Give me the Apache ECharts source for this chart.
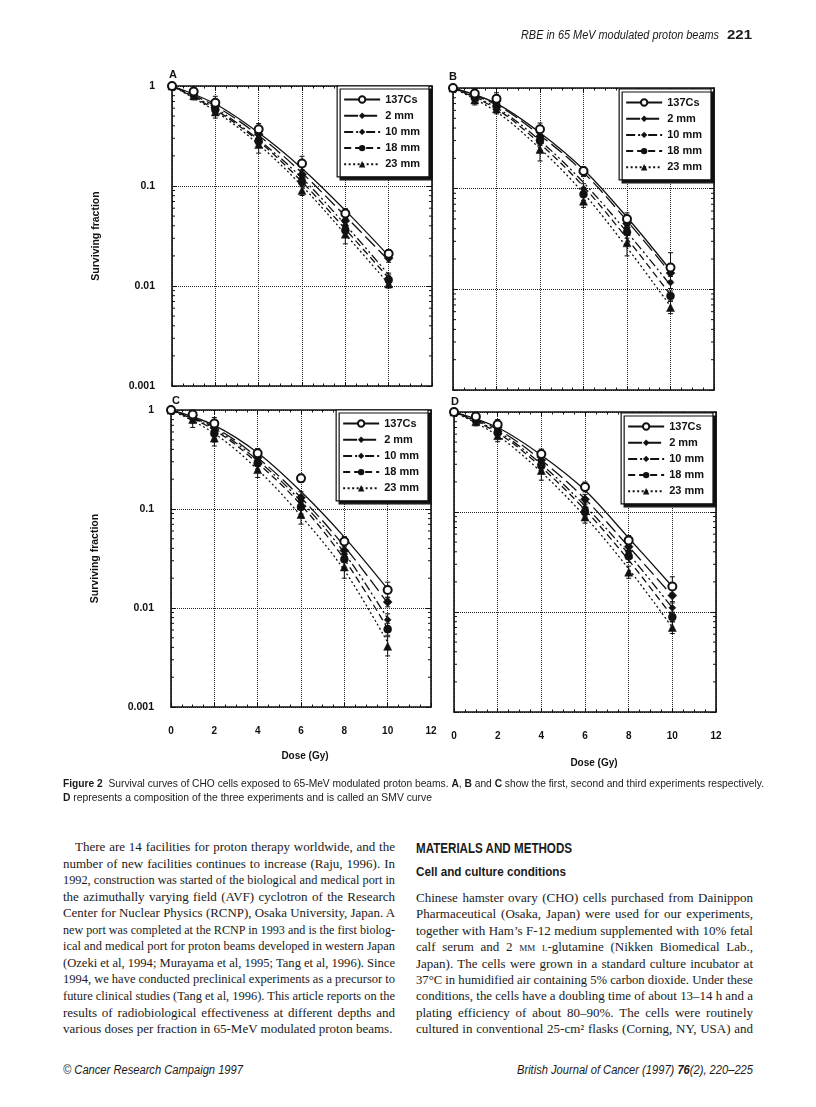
<!DOCTYPE html>
<html>
<head>
<meta charset="utf-8">
<title>Figure 2 – Survival curves of CHO cells</title>
<script src="https://cdn.jsdelivr.net/npm/echarts@6.0.0/dist/echarts.min.js"></script>
<style>
html,body{margin:0;padding:0;background:#fff;}
#page{position:relative;width:816px;height:1107px;overflow:hidden;background:#fff;}
#chart{position:absolute;left:0;top:0;width:816px;height:810px;}
.ln{position:absolute;white-space:nowrap;color:#1a1a1a;height:16px;line-height:16px;}
.ln > span{display:inline-block;transform-origin:0 50%;}
.serif{font-family:'Liberation Serif','Times New Roman',serif;font-size:13px;}
.sans{font-family:'Liberation Sans',Arial,Helvetica,sans-serif;}
.sc{font-variant:small-caps;}
</style>
</head>
<body>
<div id="page"><div id="chart"></div><div id="text"></div></div>
<script>
// ---------------- DATA ----------------
const GROUPS = ['137Cs', '2 mm', '10 mm', '18 mm', '23 mm'];
const DOSE_PTS = [0, 1, 2, 4, 6, 8, 10];
const DOSE_FIT = [0, 2, 4, 6, 8, 10];
const X_TICK_LABELS = ['0', '2', '4', '6', '8', '10', '12'];
const Y_TICK_LABELS = ['0.001', '0.01', '0.1', '1'];
const LOG_MINOR_MANTISSAS = [2, 3, 4, 5, 6, 7, 8, 9];
const LOG_DECADES = [0.001, 0.01, 0.1];

// Panel A (first experiment)
const A_PTS_CS = [1, 0.88, 0.68, 0.37, 0.168, 0.053, 0.021];
const A_PTS_2  = [1, 0.86, 0.64, 0.33, 0.13, 0.045, 0.019];
const A_PTS_10 = [1, 0.84, 0.60, 0.30, 0.12, 0.040, 0.012];
const A_PTS_18 = [1, 0.82, 0.58, 0.28, 0.11, 0.036, 0.0115];
const A_PTS_23 = [1, 0.80, 0.55, 0.26, 0.09, 0.033, 0.0105];
const A_FIT_CS = [1, 0.66, 0.34, 0.15, 0.057, 0.020];
const A_FIT_2  = [1, 0.63, 0.32, 0.135, 0.050, 0.018];
const A_FIT_10 = [1, 0.60, 0.29, 0.12, 0.041, 0.013];
const A_FIT_18 = [1, 0.58, 0.28, 0.11, 0.037, 0.012];
const A_FIT_23 = [1, 0.56, 0.26, 0.10, 0.033, 0.0105];
const A_ERR_CS = [1, 1.10, 1.16, 1.14, 1.18, 1.12, 1.10];
const A_ERR_2  = [1, 1.10, 1.12, 1.12, 1.12, 1.12, 1.10];
const A_ERR_10 = [1, 1.10, 1.15, 1.15, 1.12, 1.15, 1.12];
const A_ERR_18 = [1, 1.10, 1.12, 1.12, 1.12, 1.15, 1.12];
const A_ERR_23 = [1, 1.10, 1.15, 1.22, 1.12, 1.25, 1.10];

// Panel B (second experiment)
const B_PTS_CS = [1, 0.88, 0.78, 0.39, 0.15, 0.050, 0.0165];
const B_PTS_2  = [1, 0.85, 0.74, 0.33, 0.145, 0.045, 0.0145];
const B_PTS_10 = [1, 0.82, 0.70, 0.31, 0.10, 0.041, 0.0117];
const B_PTS_18 = [1, 0.80, 0.66, 0.30, 0.088, 0.037, 0.0086];
const B_PTS_23 = [1, 0.76, 0.62, 0.245, 0.075, 0.029, 0.0066];
const B_FIT_CS = [1, 0.70, 0.36, 0.155, 0.052, 0.0155];
const B_FIT_2  = [1, 0.68, 0.34, 0.145, 0.048, 0.0145];
const B_FIT_10 = [1, 0.64, 0.30, 0.115, 0.037, 0.011];
const B_FIT_18 = [1, 0.62, 0.28, 0.105, 0.032, 0.0088];
const B_FIT_23 = [1, 0.58, 0.25, 0.09, 0.026, 0.0068];
const B_ERR_CS = [1, 1.12, 1.15, 1.15, 1.10, 1.15, 1.40];
const B_ERR_2  = [1, 1.12, 1.15, 1.12, 1.10, 1.12, 1.20];
const B_ERR_10 = [1, 1.10, 1.12, 1.12, 1.12, 1.12, 1.15];
const B_ERR_18 = [1, 1.10, 1.12, 1.12, 1.15, 1.15, 1.12];
const B_ERR_23 = [1, 1.12, 1.12, 1.30, 1.15, 1.35, 1.15];

// Panel C (third experiment)
const C_PTS_CS = [1, 0.90, 0.73, 0.365, 0.204, 0.047, 0.0152];
const C_PTS_2  = [1, 0.88, 0.66, 0.33, 0.13, 0.038, 0.0115];
const C_PTS_10 = [1, 0.86, 0.62, 0.31, 0.12, 0.035, 0.0076];
const C_PTS_18 = [1, 0.85, 0.58, 0.29, 0.105, 0.031, 0.0061];
const C_PTS_23 = [1, 0.80, 0.52, 0.25, 0.088, 0.026, 0.0041];
const C_FIT_CS = [1, 0.70, 0.37, 0.15, 0.052, 0.0155];
const C_FIT_2  = [1, 0.67, 0.33, 0.13, 0.042, 0.0112];
const C_FIT_10 = [1, 0.65, 0.31, 0.12, 0.036, 0.0078];
const C_FIT_18 = [1, 0.63, 0.29, 0.11, 0.031, 0.0062];
const C_FIT_23 = [1, 0.58, 0.25, 0.085, 0.024, 0.0045];
const C_ERR_CS = [1, 1.10, 1.15, 1.12, 1.10, 1.12, 1.20];
const C_ERR_2  = [1, 1.12, 1.20, 1.15, 1.15, 1.15, 1.12];
const C_ERR_10 = [1, 1.12, 1.20, 1.15, 1.15, 1.15, 1.15];
const C_ERR_18 = [1, 1.15, 1.22, 1.15, 1.18, 1.20, 1.15];
const C_ERR_23 = [1, 1.20, 1.20, 1.20, 1.25, 1.30, 1.25];

// Panel D (composition, SMV curve)
const D_PTS_CS = [1, 0.90, 0.75, 0.38, 0.178, 0.052, 0.018];
const D_PTS_2  = [1, 0.87, 0.70, 0.33, 0.134, 0.045, 0.0146];
const D_PTS_10 = [1, 0.85, 0.66, 0.31, 0.11, 0.040, 0.011];
const D_PTS_18 = [1, 0.83, 0.62, 0.29, 0.10, 0.036, 0.0089];
const D_PTS_23 = [1, 0.80, 0.58, 0.26, 0.089, 0.025, 0.007];
const D_FIT_CS = [1, 0.70, 0.37, 0.165, 0.055, 0.018];
const D_FIT_2  = [1, 0.67, 0.33, 0.135, 0.045, 0.0145];
const D_FIT_10 = [1, 0.64, 0.30, 0.115, 0.038, 0.011];
const D_FIT_18 = [1, 0.62, 0.28, 0.105, 0.033, 0.009];
const D_FIT_23 = [1, 0.58, 0.25, 0.09, 0.027, 0.007];
const D_ERR_CS = [1, 1.10, 1.12, 1.12, 1.12, 1.12, 1.25];
const D_ERR_2  = [1, 1.10, 1.12, 1.12, 1.12, 1.12, 1.15];
const D_ERR_10 = [1, 1.10, 1.12, 1.12, 1.12, 1.15, 1.12];
const D_ERR_18 = [1, 1.10, 1.12, 1.12, 1.12, 1.15, 1.12];
const D_ERR_23 = [1, 1.10, 1.15, 1.25, 1.15, 1.15, 1.15];

const PANEL_LETTERS = ['A', 'B', 'C', 'D'];
const X_AXIS_NAME = 'Dose (Gy)';
const Y_AXIS_NAME = 'Surviving fraction';

// ---------------- TEXT ----------------
const HEADER_TITLE = 'RBE in 65 MeV modulated proton beams';
const HEADER_PAGE = '221';
const CAPTION_1 = '<b>Figure 2</b>&nbsp; Survival curves of CHO cells exposed to 65-MeV modulated proton beams. <b>A</b>, <b>B</b> and <b>C</b> show the first, second and third experiments respectively.';
const CAPTION_2 = '<b>D</b> represents a composition of the three experiments and is called an SMV curve';
const LEFT_COL = [
  'There are 14 facilities for proton therapy worldwide, and the',
  'number of new facilities continues to increase (Raju, 1996). In',
  '1992, construction was started of the biological and medical port in',
  'the azimuthally varying field (AVF) cyclotron of the Research',
  'Center for Nuclear Physics (RCNP), Osaka University, Japan. A',
  'new port was completed at the RCNP in 1993 and is the first biolog-',
  'ical and medical port for proton beams developed in western Japan',
  '(Ozeki et al, 1994; Murayama et al, 1995; Tang et al, 1996). Since',
  '1994, we have conducted preclinical experiments as a precursor to',
  'future clinical studies (Tang et al, 1996). This article reports on the',
  'results of radiobiological effectiveness at different depths and',
  'various doses per fraction in 65-MeV modulated proton beams.'
];
const RIGHT_HEAD_1 = 'MATERIALS AND METHODS';
const RIGHT_HEAD_2 = 'Cell and culture conditions';
const RIGHT_COL = [
  'Chinese hamster ovary (CHO) cells purchased from Dainippon',
  'Pharmaceutical (Osaka, Japan) were used for our experiments,',
  'together with Ham’s F-12 medium supplemented with 10% fetal',
  'calf serum and 2 <span class="sc">mm</span> <span class="sc">l</span>-glutamine (Nikken Biomedical Lab.,',
  'Japan). The cells were grown in a standard culture incubator at',
  '37°C in humidified air containing 5% carbon dioxide. Under these',
  'conditions, the cells have a doubling time of about 13–14 h and a',
  'plating efficiency of about 80–90%. The cells were routinely',
  'cultured in conventional 25-cm² flasks (Corning, NY, USA) and'
];
const FOOTER_LEFT = '© Cancer Research Campaign 1997';
const FOOTER_RIGHT = 'British Journal of Cancer (1997) <b>76</b>(2), 220–225';

// ---------------- LAYOUT ----------------
const PANELS = [
  {pts:[A_PTS_CS,A_PTS_2,A_PTS_10,A_PTS_18,A_PTS_23], fit:[A_FIT_CS,A_FIT_2,A_FIT_10,A_FIT_18,A_FIT_23], err:[A_ERR_CS,A_ERR_2,A_ERR_10,A_ERR_18,A_ERR_23]},
  {pts:[B_PTS_CS,B_PTS_2,B_PTS_10,B_PTS_18,B_PTS_23], fit:[B_FIT_CS,B_FIT_2,B_FIT_10,B_FIT_18,B_FIT_23], err:[B_ERR_CS,B_ERR_2,B_ERR_10,B_ERR_18,B_ERR_23]},
  {pts:[C_PTS_CS,C_PTS_2,C_PTS_10,C_PTS_18,C_PTS_23], fit:[C_FIT_CS,C_FIT_2,C_FIT_10,C_FIT_18,C_FIT_23], err:[C_ERR_CS,C_ERR_2,C_ERR_10,C_ERR_18,C_ERR_23]},
  {pts:[D_PTS_CS,D_PTS_2,D_PTS_10,D_PTS_18,D_PTS_23], fit:[D_FIT_CS,D_FIT_2,D_FIT_10,D_FIT_18,D_FIT_23], err:[D_ERR_CS,D_ERR_2,D_ERR_10,D_ERR_18,D_ERR_23]}
];
const LAYOUT = [
  {left:172, top:86,  width:260, height:300, lgRight:387, lgTop:86,  xLab:false, yLab:true,  lx:173, ly:75,  nameGap:44},
  {left:453, top:88,  width:261, height:302, lgRight:105, lgTop:89,  xLab:false, yLab:false, lx:453, ly:77,  nameGap:44},
  {left:171, top:410, width:260, height:297, lgRight:388, lgTop:410, xLab:true,  yLab:true,  lx:176, ly:401, nameGap:44, nameShift:8},
  {left:454, top:412, width:262, height:300, lgRight:103, lgTop:413, xLab:true,  yLab:false, lx:455, ly:402, nameGap:46, nameShift:18}
];
const STYLES = [
  {symbol:'emptyCircle', size:8, dash:'solid'},
  {symbol:'diamond',     size:9, dash:[14,5]},
  {symbol:'diamond',     size:7, dash:[9,3,2,3,2,3]},
  {symbol:'circle',      size:8, dash:[7,4]},
  {symbol:'triangle',    size:8, dash:[2,2.5]}
];
const INK = '#111';
const FONT = "'Liberation Sans', Arial, Helvetica, sans-serif";
const NARROW = "'Liberation Sans Narrow', 'Liberation Sans', Arial, sans-serif";

const logMinor = [];
LOG_DECADES.forEach(d => LOG_MINOR_MANTISSAS.forEach(m => logMinor.push([0, m * d])));

const grids = [], xAxes = [], yAxes = [], series = [], legends = [], graphics = [];

LAYOUT.forEach((L, p) => {
  grids.push({left:L.left, top:L.top, width:L.width, height:L.height, containLabel:false, show:false});
  const baseX = {
    type:'value', gridIndex:p, min:0, max:12, interval:2,
    axisLine:{show:true, onZero:false, lineStyle:{color:INK, width:1.6}},
    axisTick:{show:true, inside:true, length:4, lineStyle:{color:INK, width:1}},
    minorTick:{show:true, splitNumber:4, length:2.5, lineStyle:{color:INK, width:1}},
    minorSplitLine:{show:false}
  };
  xAxes.push(Object.assign({}, baseX, {
    position:'bottom',
    axisLabel:{show:L.xLab, margin:19, fontFamily:FONT, fontSize:10, fontWeight:'bold', color:INK,
      formatter: v => X_TICK_LABELS[Math.round(v / 2)]},
    splitLine:{show:true, lineStyle:{color:'#222', type:'dotted', width:1}},
    name: L.xLab ? X_AXIS_NAME : '', nameLocation:'middle', nameGap:L.nameGap,
    nameTextStyle:{fontFamily:FONT, fontSize:10, fontWeight:'bold', color:INK, padding:[0,0,0,L.nameShift || 0]}
  }));
  xAxes.push(Object.assign({}, baseX, {position:'top', axisLabel:{show:false}, splitLine:{show:false}}));
  const baseY = {
    type:'log', logBase:10, gridIndex:p, min:0.001, max:1,
    axisLine:{show:true, onZero:false, lineStyle:{color:INK, width:1.6}},
    axisTick:{show:true, inside:true, length:5, lineStyle:{color:INK, width:1}}
  };
  yAxes.push(Object.assign({}, baseY, {
    position:'left',
    axisLabel:{show:L.yLab, margin:17, fontFamily:NARROW, fontSize:10.5, fontWeight:'bold', color:INK,
      formatter: v => Y_TICK_LABELS[Math.round(Math.log10(v)) + 3]},
    splitLine:{show:true, lineStyle:{color:'#222', type:'dotted', width:1}},
    name: L.yLab ? Y_AXIS_NAME : '', nameLocation:'middle', nameGap:70, nameRotate:90,
    nameTextStyle:{fontFamily:NARROW, fontSize:10.5, fontWeight:'bold', color:INK}
  }));
  yAxes.push(Object.assign({}, baseY, {position:'right', axisLabel:{show:false}, splitLine:{show:false}}));

  const P = PANELS[p];
  // fitted survival curves (also provide the legend entries)
  GROUPS.forEach((g, k) => {
    const st = STYLES[k];
    series.push({
      type:'line', name:g, xAxisIndex:2*p, yAxisIndex:2*p,
      data: DOSE_FIT.map((d, i) => [d, P.fit[k][i]]),
      smooth:0.35, showSymbol:false,
      symbol:st.symbol, symbolSize:st.size,
      lineStyle:{color:INK, width:1.3, type:st.dash},
      itemStyle:{color:INK, borderColor:INK, borderWidth: st.symbol === 'emptyCircle' ? 1.3 : 0},
      silent:true, z:2, animation:false
    });
  });
  // measured points
  GROUPS.forEach((g, k) => {
    const st = STYLES[k];
    series.push({
      type:'scatter', name:'pts ' + g, xAxisIndex:2*p, yAxisIndex:2*p,
      data: DOSE_PTS.map((d, i) => [d, P.pts[k][i]]),
      symbol:st.symbol, symbolSize:st.size,
      itemStyle:{color:INK, borderColor:INK, borderWidth: st.symbol === 'emptyCircle' ? 1.3 : 0.5, opacity:1},
      silent:true, z: k === 0 ? 6 : 5, animation:false
    });
  });
  // error bars
  const errData = [];
  GROUPS.forEach((g, k) => {
    DOSE_PTS.forEach((d, i) => {
      const f = P.err[k][i];
      if (f > 1) errData.push([d, P.pts[k][i] / f, P.pts[k][i] * f]);
    });
  });
  series.push({
    type:'custom', name:'err', xAxisIndex:2*p, yAxisIndex:2*p, silent:true, z:4, animation:false,
    encode:{x:0, y:[1, 2]},
    data: errData,
    renderItem: (params, api) => {
      const x = api.value(0);
      const a = api.coord([x, api.value(1)]);
      const b = api.coord([x, api.value(2)]);
      const c = 2.5, s = {stroke:INK, lineWidth:1};
      return {type:'group', children:[
        {type:'line', shape:{x1:a[0], y1:a[1], x2:b[0], y2:b[1]}, style:s},
        {type:'line', shape:{x1:a[0]-c, y1:a[1], x2:a[0]+c, y2:a[1]}, style:s},
        {type:'line', shape:{x1:b[0]-c, y1:b[1], x2:b[0]+c, y2:b[1]}, style:s}
      ]};
    }
  });
  // logarithmic minor ticks on both vertical frame sides
  series.push({
    type:'custom', name:'minor', xAxisIndex:2*p, yAxisIndex:2*p, silent:true, z:3, animation:false,
    encode:{x:0, y:1},
    data: logMinor,
    renderItem: (params, api) => {
      const v = api.value(1);
      const l = api.coord([0, v]);
      const r = api.coord([12, v]);
      const s = {stroke:INK, lineWidth:1};
      return {type:'group', children:[
        {type:'line', shape:{x1:l[0], y1:l[1], x2:l[0]+3, y2:l[1]}, style:s},
        {type:'line', shape:{x1:r[0]-3, y1:r[1], x2:r[0], y2:r[1]}, style:s}
      ]};
    }
  });

  legends.push({
    data: GROUPS, orient:'vertical', right:L.lgRight, top:L.lgTop,
    itemWidth:36, itemHeight:8, itemGap:5.2, padding:[8, 9, 7, 6],
    backgroundColor:'#fff', borderColor:INK, borderWidth:1.2,
    shadowColor:INK, shadowBlur:0, shadowOffsetX:3, shadowOffsetY:3,
    textStyle:{fontFamily:FONT, fontSize:11, fontWeight:'bold', color:INK},
    selectedMode:false
  });
  graphics.push({
    type:'text', x:L.lx, y:L.ly, silent:true,
    style:{text:PANEL_LETTERS[p], font:"bold 11px 'Liberation Sans', Arial, sans-serif", fill:INK, textAlign:'center', textVerticalAlign:'middle'}
  });
});

const chart = echarts.init(document.getElementById('chart'), null, {renderer:'canvas'});
chart.setOption({
  animation:false,
  backgroundColor:'#fff',
  grid:grids, xAxis:xAxes, yAxis:yAxes, series:series, legend:legends, graphic:graphics
});

// ---------------- PAGE TEXT ----------------
const lines = [];
function addLine(html, x, yc, w, cls, mode) { lines.push({html, x, yc, w, cls, mode}); }
addLine('<i>' + HEADER_TITLE + '</i>', 521, 35, 198, 'sans', 'f');
addLine('<b>' + HEADER_PAGE + '</b>', 727, 35, 25, 'sans', 'f');
addLine(CAPTION_1, 63, 783, 701, 'sans cap', 'f');
addLine(CAPTION_2, 63, 797, 369, 'sans cap', 'f');
LEFT_COL.forEach((t, i) => {
  const x = i === 0 ? 75 : 63;
  addLine(t, x, 847 + i * 16.55, 395 - x, 'serif', i < LEFT_COL.length - 1 ? 'j' : 's');
});
addLine('<b>' + RIGHT_HEAD_1 + '</b>', 416, 848, 156, 'sans head1', 'f');
addLine('<b>' + RIGHT_HEAD_2 + '</b>', 416, 872, 150, 'sans head2', 'f');
RIGHT_COL.forEach((t, i) => addLine(t, 416, 898 + i * 16.4, 337, 'serif', 'j'));
addLine('<i>' + FOOTER_LEFT + '</i>', 63, 1070, 180, 'sans foot', 'f');
addLine('<i>' + FOOTER_RIGHT + '</i>', 517, 1070, 236, 'sans foot', 'f');

const textRoot = document.getElementById('text');
lines.forEach(L => {
  const d = document.createElement('div');
  d.className = 'ln ' + L.cls;
  d.style.left = L.x + 'px';
  d.style.top = (L.yc - 8) + 'px';
  d.style.width = L.w + 'px';
  if (L.cls.indexOf('cap') >= 0) d.style.fontSize = '10.5px';
  if (L.cls.indexOf('head1') >= 0) { d.style.fontSize = '14px'; d.style.fontWeight = '900'; }
  if (L.cls.indexOf('head2') >= 0) d.style.fontSize = '13.5px';
  if (L.cls.indexOf('foot') >= 0) d.style.fontSize = '12px';
  if (L.cls === 'sans') d.style.fontSize = '12px';
  d.innerHTML = '<span>' + L.html + '</span>';
  textRoot.appendChild(d);
  const sp = d.firstElementChild;
  const nat = sp.getBoundingClientRect().width;
  if (L.mode === 'f' || nat > L.w) {
    sp.style.transform = 'scaleX(' + (L.w / nat) + ')';
  } else if (L.mode === 'j') {
    const n = (sp.textContent.match(/ /g) || []).length;
    if (n) sp.style.wordSpacing = ((L.w - nat) / n) + 'px';
  }
});
</script>
</body>
</html>
